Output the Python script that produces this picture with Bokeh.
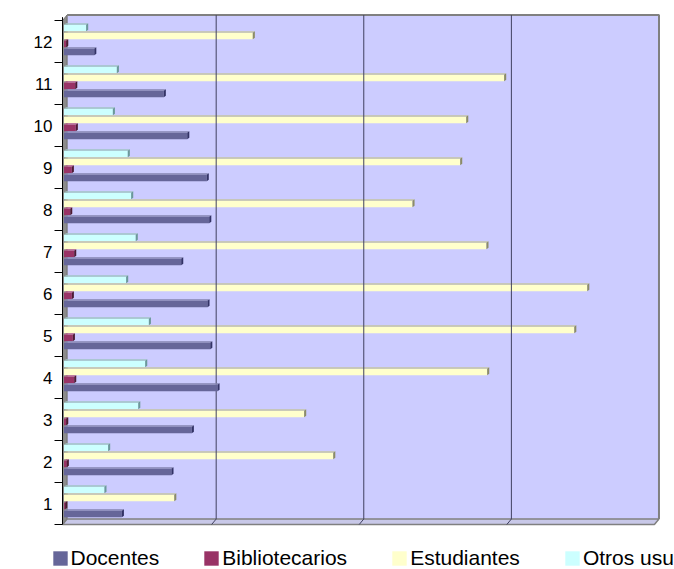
from bokeh.plotting import figure
from bokeh.models import Range1d, Legend, LegendItem
from bokeh.embed import file_html
from bokeh.resources import INLINE

# ---- data ----
categories = list(range(1, 13))
category_labels = [str(c) for c in categories]
docentes = [39.2, 72.8, 86.6, 104.0, 99.1, 97.2, 79.4, 98.4, 96.7, 83.5, 67.6, 20.5]
bibliotecarios = [0.8, 1.9, 1.5, 6.9, 6.0, 5.3, 6.9, 4.2, 5.3, 8.0, 7.6, 1.5]
estudiantes = [74.7, 182.4, 162.7, 286.7, 345.7, 354.5, 286.2, 236.1, 268.4, 272.5, 298.2, 127.9]
otros = [27.4, 29.9, 50.3, 55.0, 57.5, 42.1, 48.6, 45.5, 43.2, 33.1, 35.8, 15.0]
series_names = ["Docentes", "Bibliotecarios", "Estudiantes", "Otros usuarios"]
value_gridlines = [100, 200, 300]

FONT = "Liberation Sans"
W, H = 674, 569

# ---- geometry / style (px per data unit) ----
PXX, PXY = 1.476, 42.0
X0 = -63.5 / PXX
X1 = X0 + W / PXX
Y0 = 0.5 - (H - 524) / PXY
Y1 = Y0 + H / PXY
AX = -1.0               # front-plane axis position
WALL_R = 403.1
WX, WY = 3.1, 0.13      # wall depth (data units)
BX, BY = 1.4, 0.035     # bar depth
HF = 0.155              # bar front face height

p = figure(width=W, height=H, output_backend="svg", toolbar_location=None,
           x_range=Range1d(X0, X1), y_range=Range1d(Y0, Y1), min_border=0)
p.outline_line_color = None
p.background_fill_color = "white"
p.border_fill_color = "white"
p.axis.visible = False
p.grid.visible = False

lo = categories[0] - 0.5
hi = categories[-1] + 0.5
bounds = [c - 0.5 for c in categories] + [hi]

# back wall
p.quad(left=AX + WX, right=WALL_R, bottom=lo + WY, top=hi + WY,
       fill_color="#CCCCFF", line_color=None)
# side wall
p.patch(x=[AX, AX + WX, AX + WX, AX], y=[lo, lo + WY, hi + WY, hi],
        fill_color="#8C8C8C", line_color="#707070", line_width=1)
# floor
p.patch(x=[AX, WALL_R - WX, WALL_R, AX + WX], y=[lo, lo, lo + WY, lo + WY],
        fill_color="#C8C8E8", line_color="#808080", line_width=1.5)
# wall borders
p.line(x=[AX + WX, WALL_R, WALL_R], y=[hi + WY, hi + WY, lo + WY],
       line_color="#808080", line_width=2)


def draw_series(values, offset, front, topc, side):
    yb = [c + offset - 0.095 for c in categories]
    yt = [b + HF for b in yb]
    r = p.hbar(y=[(b + t) / 2 for b, t in zip(yb, yt)], left=0, right=values,
               height=HF, fill_color=front, line_color=None)
    p.patches(xs=[[0, v, v + BX, BX] for v in values],
              ys=[[t, t, t + BY, t + BY] for t in yt],
              fill_color=topc, line_color=None)
    p.patches(xs=[[v, v + BX, v + BX, v] for v in values],
              ys=[[b, b + BY, t + BY, t] for b, t in zip(yb, yt)],
              fill_color=side, line_color=None)
    return r


r_otros = draw_series(otros, 0.34, "#CCFFFF", "#A0C4C4", "#6B9999")
r_est = draw_series(estudiantes, 0.15, "#FFFFCC", "#C4C4A4", "#8C8C66")

# gridlines on the back wall and floor
n = len(value_gridlines)
p.segment(x0=[t + WX for t in value_gridlines], y0=[lo + WY] * n,
          x1=[t + WX for t in value_gridlines], y1=[hi + WY] * n,
          line_color="#404060", line_width=1)
p.segment(x0=value_gridlines, y0=[lo] * n,
          x1=[t + WX for t in value_gridlines], y1=[lo + WY] * n,
          line_color="#404060", line_width=1)

r_bib = draw_series(bibliotecarios, -0.04, "#993366", "#B35C85", "#4D1A33")
r_doc = draw_series(docentes, -0.23, "#666699", "#8585B0", "#333366")

# category axis (front plane)
p.segment(x0=[AX], y0=[lo], x1=[AX], y1=[hi + 0.08], line_color="black", line_width=1)
p.segment(x0=[AX - 8 / PXX] * len(bounds), y0=bounds, x1=[AX] * len(bounds), y1=bounds,
          line_color="black", line_width=1)
p.text(x=[AX - 10 / PXX] * len(categories), y=categories, text=category_labels,
       text_align="right", text_baseline="middle", text_font_size="17px",
       text_font={"value": FONT}, text_color="black")

legend = Legend(items=[LegendItem(label=series_names[0], renderers=[r_doc]),
                       LegendItem(label=series_names[1], renderers=[r_bib]),
                       LegendItem(label=series_names[2], renderers=[r_est]),
                       LegendItem(label=series_names[3], renderers=[r_otros])],
                orientation="horizontal", location=(50.5, -1),
                glyph_width=18, glyph_height=18, label_standoff=2, spacing=43,
                padding=0, margin=0, border_line_color=None,
                background_fill_alpha=0, label_text_font=FONT,
                label_text_font_size="21px", label_text_color="black",
                label_height=18)
p.add_layout(legend, "center")

open("out.html", "w").write(file_html(p, INLINE))
